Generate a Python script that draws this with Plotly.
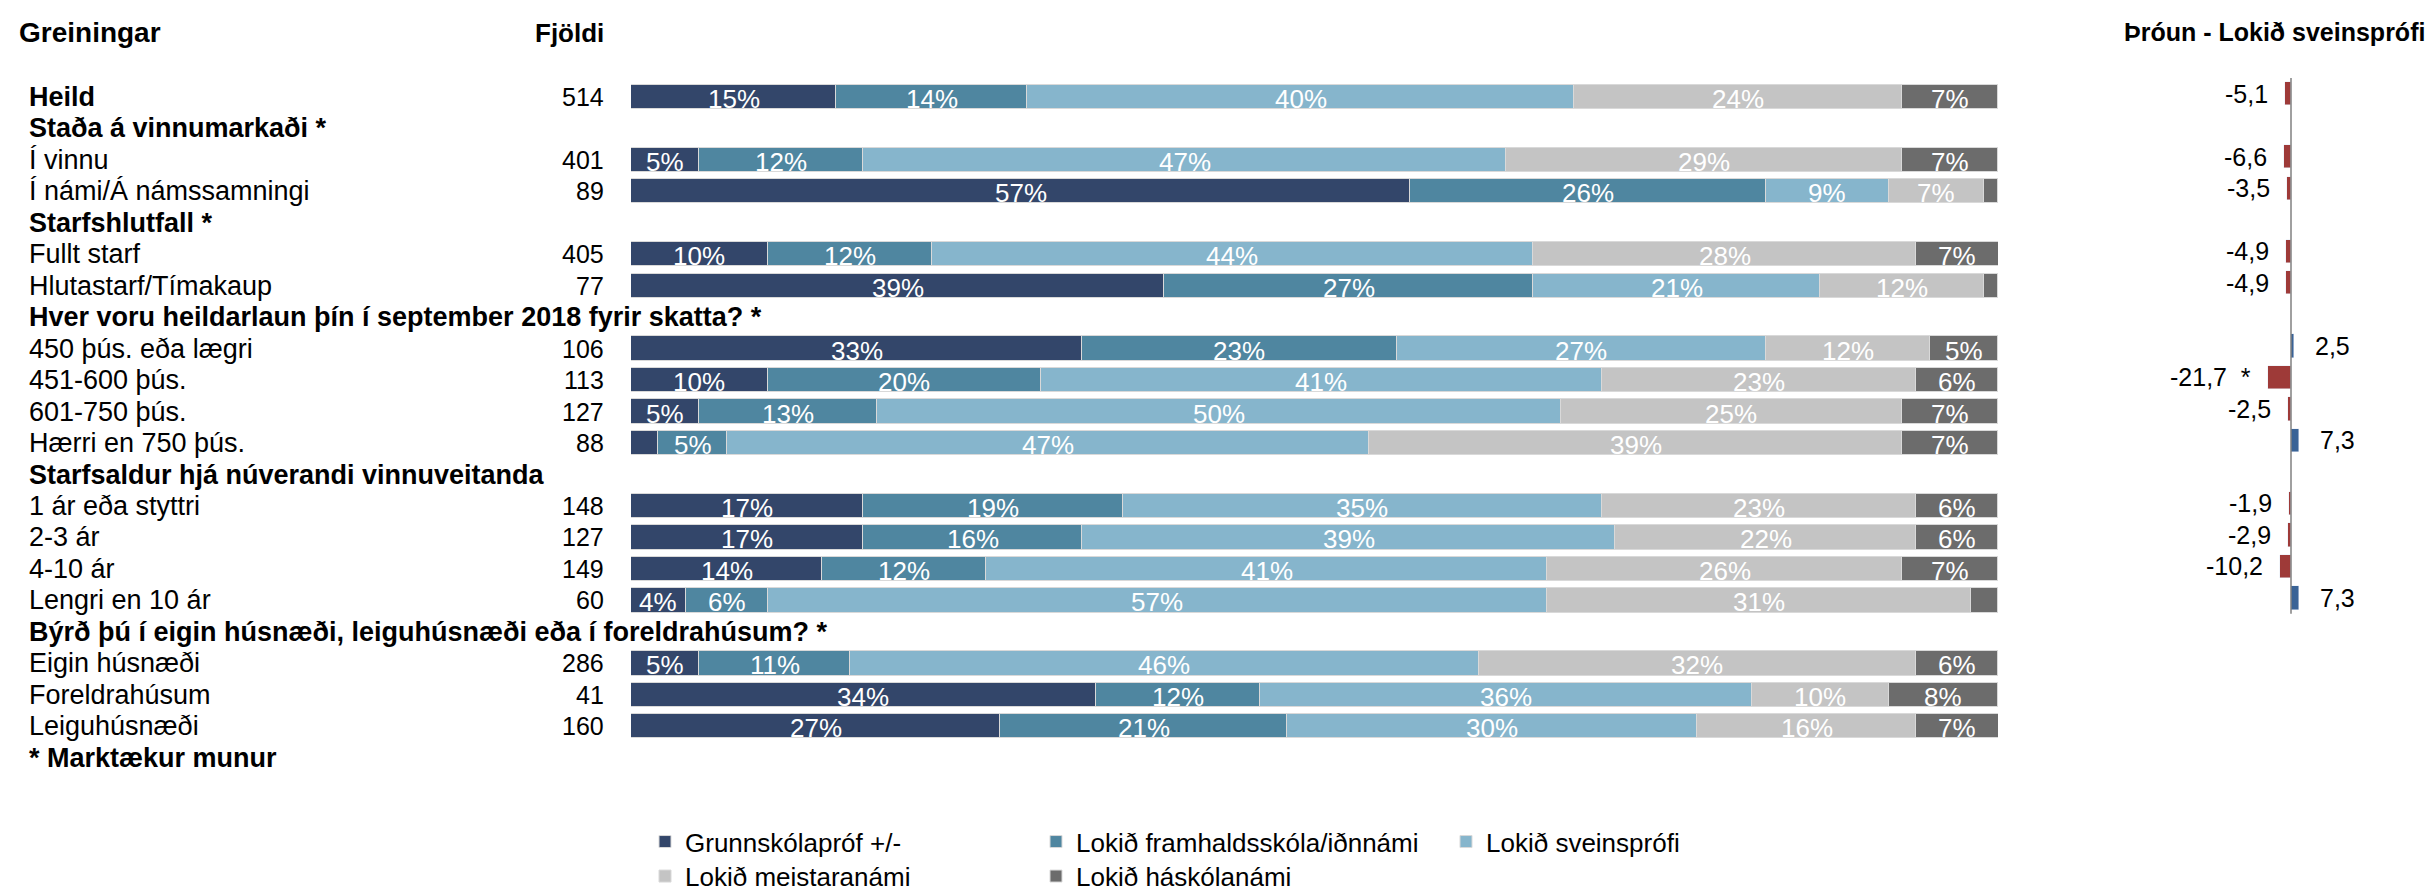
import plotly.graph_objects as go

W, H = 2433, 892
FONT = "Liberation Sans, Arial, sans-serif"

# ---------------- data ----------------
row_labels = [
    "Heild",
    "Staða á vinnumarkaði *",
    "Í vinnu",
    "Í námi/Á námssamningi",
    "Starfshlutfall *",
    "Fullt starf",
    "Hlutastarf/Tímakaup",
    "Hver voru heildarlaun þín í september 2018 fyrir skatta? *",
    "450 þús. eða lægri",
    "451-600 þús.",
    "601-750 þús.",
    "Hærri en 750 þús.",
    "Starfsaldur hjá núverandi vinnuveitanda",
    "1 ár eða styttri",
    "2-3 ár",
    "4-10 ár",
    "Lengri en 10 ár",
    "Býrð þú í eigin húsnæði, leiguhúsnæði eða í foreldrahúsum? *",
    "Eigin húsnæði",
    "Foreldrahúsum",
    "Leiguhúsnæði",
    "* Marktækur munur",
]
bold_rows = [True, True, False, False, True, False, False, True, False, False, False,
             False, True, False, False, False, False, True, False, False, False, True]
counts = [514, None, 401, 89, None, 405, 77, None, 106, 113, 127, 88, None,
          148, 127, 149, 60, None, 286, 41, 160, None]

series_names = ["Grunnskólapróf +/-", "Lokið framhaldsskóla/iðnnámi", "Lokið sveinsprófi",
                "Lokið meistaranámi", "Lokið háskólanámi"]
grunnskoli = [15, None, 5, 57, None, 10, 39, None, 33, 10, 5, 2, None, 17, 17, 14, 4, None, 5, 34, 27, None]
framhald = [14, None, 12, 26, None, 12, 27, None, 23, 20, 13, 5, None, 19, 16, 12, 6, None, 11, 12, 21, None]
sveinsprof = [40, None, 47, 9, None, 44, 21, None, 27, 41, 50, 47, None, 35, 39, 41, 57, None, 46, 36, 30, None]
meistari = [24, None, 29, 7, None, 28, 12, None, 12, 23, 25, 39, None, 23, 22, 26, 31, None, 32, 10, 16, None]
haskoli = [7, None, 7, 1, None, 7, 1, None, 5, 6, 7, 7, None, 6, 6, 7, 2, None, 6, 8, 7, None]

throun = [-5.1, None, -6.6, -3.5, None, -4.9, -4.9, None, 2.5, -21.7, -2.5, 7.3, None,
          -1.9, -2.9, -10.2, 7.3]
throun_sig = [False, False, False, False, False, False, False, False, False, True, False,
              False, False, False, False, False, False]

colors = ["#33466A", "#4F86A0", "#86B5CC", "#C4C4C4", "#6C6C6C"]
neg_color = "#9E3A38"
pos_color = "#3A6396"

# ---------------- geometry helpers ----------------
def px_x(p):
    return p / W

def px_y(p):
    return 1 - p / H

n_rows = len(row_labels)
rows = list(range(n_rows))
n_right = len(throun)

fig = go.Figure()

all_series = [grunnskoli, framhald, sveinsprof, meistari, haskoli]
legend_ids = ["legend", "legend2", "legend3", "legend4", "legend5"]
for name, vals, col, lg in zip(series_names, all_series, colors, legend_ids):
    fig.add_trace(go.Bar(
        x=vals, y=rows, orientation="h", name=name,
        marker=dict(color=col, line=dict(color="#D9D9D9", width=1)),
        width=0.77, legend=lg, xaxis="x", yaxis="y",
        hovertemplate=name + ": %{x}%<extra></extra>",
    ))

# right panel bars
fig.add_trace(go.Bar(
    x=throun, y=list(range(n_right)), orientation="h",
    marker=dict(color=[(neg_color if (v is not None and v < 0) else pos_color) for v in throun]),
    width=0.74, showlegend=False, xaxis="x2", yaxis="y2",
    hovertemplate="%{x}<extra></extra>",
))

annotations = []

# percentage labels inside bars
for i in rows:
    cum = 0
    for vals in all_series:
        v = vals[i]
        if v is None:
            continue
        if v >= 3:
            xc = cum + v / 2
            if cum + v > 100:
                xc = cum + (100 - cum) / 2
            annotations.append(dict(
                x=xc, y=i, xref="x", yref="y", text=f"{v}%", showarrow=False,
                font=dict(family=FONT, size=26, color="white"), yshift=-2,
            ))
        cum += v

# row labels and counts
for i, (lab, b, c) in enumerate(zip(row_labels, bold_rows, counts)):
    annotations.append(dict(
        x=px_x(19), y=i, xref="paper", yref="y", xanchor="left", yanchor="middle",
        text=f"<b>{lab}</b>" if b else lab, showarrow=False,
        font=dict(family=FONT, size=27, color="black"),
    ))
    if c is not None:
        annotations.append(dict(
            x=px_x(598), y=i, xref="paper", yref="y", xanchor="right", yanchor="middle",
            text=str(c), showarrow=False,
            font=dict(family=FONT, size=25, color="black"),
        ))

# headers
annotations.append(dict(x=px_x(9), y=px_y(25), xref="paper", yref="paper", xanchor="left",
                        yanchor="middle", text="<b>Greiningar</b>", showarrow=False,
                        font=dict(family=FONT, size=28, color="black")))
annotations.append(dict(x=px_x(598), y=px_y(25), xref="paper", yref="paper", xanchor="right",
                        yanchor="middle", text="<b>Fjöldi</b>", showarrow=False,
                        font=dict(family=FONT, size=26, color="black")))
annotations.append(dict(x=px_x(2266), y=px_y(24), xref="paper", yref="paper", xanchor="center",
                        yanchor="middle", text="<b>Þróun - Lokið sveinsprófi</b>", showarrow=False,
                        font=dict(family=FONT, size=25, color="black")))

# right panel value labels
for i, (v, s) in enumerate(zip(throun, throun_sig)):
    if v is None:
        continue
    txt = f"{v:.1f}".replace(".", ",") + ("  *" if s else "")
    annotations.append(dict(
        x=v, y=i, xref="x2", yref="y2", text=txt, showarrow=False,
        xanchor="right" if v < 0 else "left", yanchor="middle",
        xshift=-15 if v < 0 else 19,
        font=dict(family=FONT, size=25, color="black"),
    ))

shapes = [dict(type="line", xref="x2", yref="y2 domain", x0=0, x1=0, y0=0, y1=1,
               line=dict(color="#808080", width=1.5), layer="above")]

# legends positions (symbol left edges, centre y)
legend_pos = [(651, 845), (1042, 845), (1452, 845), (651, 880), (1042, 880)]
legend_layouts = {}
for lg, (lx, ly) in zip(legend_ids, legend_pos):
    legend_layouts[lg] = dict(
        x=px_x(lx - 14), y=px_y(ly), xanchor="left", yanchor="middle",
        orientation="h", font=dict(family=FONT, size=26, color="black"),
        bgcolor="rgba(0,0,0,0)", itemclick=False, itemdoubleclick=False,
    )

fig.update_layout(
    width=W, height=H,
    margin=dict(l=0, r=0, t=0, b=0),
    paper_bgcolor="white", plot_bgcolor="white",
    barmode="stack", bargap=0,
    font=dict(family=FONT, color="black"),
    xaxis=dict(domain=[px_x(623), px_x(1990)], range=[0, 100], visible=False, fixedrange=True),
    yaxis=dict(domain=[px_y(776), px_y(74)], range=[n_rows - 0.5, -0.5], visible=False, fixedrange=True),
    xaxis2=dict(domain=[px_x(2150), px_x(2420)], range=[-(2283 - 2150) / 1.08, (2420 - 2283) / 1.08],
                visible=False, fixedrange=True, anchor="y2"),
    yaxis2=dict(domain=[px_y(614), px_y(71)], range=[n_right - 0.5, -0.5], visible=False,
                fixedrange=True, anchor="x2"),
    annotations=annotations,
    shapes=shapes,
    **legend_layouts,
)

fig.write_html("out.html")
